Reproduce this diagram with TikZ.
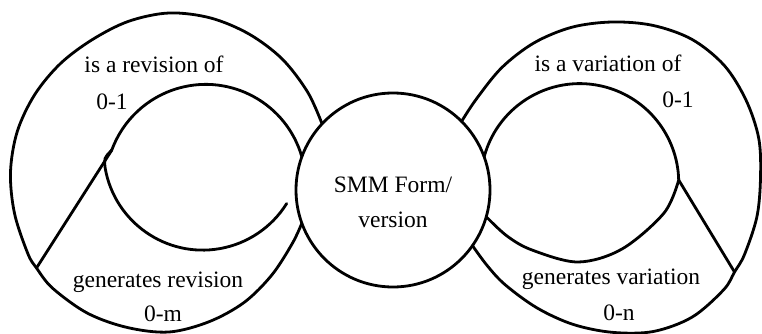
\documentclass[tikz,border=0pt]{standalone}
\usepackage{fontspec}
\setmainfont{Liberation Serif}
\begin{document}
\begin{tikzpicture}[x=1pt, y=-1pt,
  line width=2.8pt, line cap=round, line join=round,
  lbl/.style={anchor=base, inner sep=0pt, font=\fontsize{23.5}{28}\selectfont},
  entity/.style={circle, draw, minimum size=194pt, inner sep=0pt, outer sep=0pt},
  loop/.style={smooth, tension=0.55}]
\useasboundingbox (0,0) rectangle (762,334);

% central entity
\node[entity] (form) at (393,190) {};
\node[lbl] (formA) at (393,192) {SMM Form/};
\node[lbl] (formB) at (393,227) {version};

% feet of the two relationship strokes on the outer loops
\coordinate (lfoot) at (36.5,268);
\coordinate (rfoot) at (734.5,272);

% revision loop (left): outer ring
\draw plot[loop] coordinates {(form.137) (307.6,92) (282.1,58.9) (248.8,33.9) (210.3,17.9)
  (169,13) (128.6,21.3) (92.5,39.5) (60.5,63.5) (34.8,94.5) (17.3,131.4) (10.5,172)
  (14.5,213.4) (27.8,253.5) (lfoot) (52.7,288.3) (87.5,313.2) (127.3,327.5) (169,332)
  (209.1,321.7) (244.3,302.3) (271.9,274.9) (292.4,243.3) (form.200)};
% inner ring: upper arc ends at the cusp, lower arc ends free
\draw (form.160) arc[start angle=-16, end angle=-160, radius=100] coordinate (lcusp);
\draw (lcusp) .. controls (104,158) .. (105.2,168.3)
  arc[start angle=-190, end angle=-328, radius=99] coordinate (lend);
\draw (lcusp) -- (lfoot);

% variation loop (right): outer ring
\draw plot[loop] coordinates {(form.45) (476,99.5) (501.7,67.7) (534,42.9) (571.6,27.3)
  (612,22) (652.9,25.4) (692,39.4) (724.4,65.6) (746.2,100.5) (758.8,138.7) (760.5,178)
  (756.9,216.8) (744.5,254.5) (rfoot) (723.7,289.7) (692.3,317) (653.3,331.5) (612,332.3)
  (572.8,324.3) (537,307.9) (505.2,284.8) (487.1,265.5) (form.-35)};
% inner ring
\draw (form.20) arc[start angle=-164.9, end angle=-1.5, radius=99] coordinate (rcusp);
\draw plot[loop] coordinates {(rcusp) (664,213) (622,249) (578,262) (532,250) (507,236) (form.-16)};
\draw (rcusp) -- (rfoot);

% role names and cardinalities
\node[lbl] (revOf) at (154,73) {is a revision of};
\node[lbl] (revOfCard) at (112,110) {0-1};
\node[lbl] (genRev) at (158,287) {generates revision};
\node[lbl] (genRevCard) at (163,321) {0-m};
\node[lbl] (varOf) at (608,72) {is a variation of};
\node[lbl] (varOfCard) at (678,108) {0-1};
\node[lbl] (genVar) at (611,284) {generates variation};
\node[lbl] (genVarCard) at (619,320) {0-n};
\end{tikzpicture}
\end{document}
